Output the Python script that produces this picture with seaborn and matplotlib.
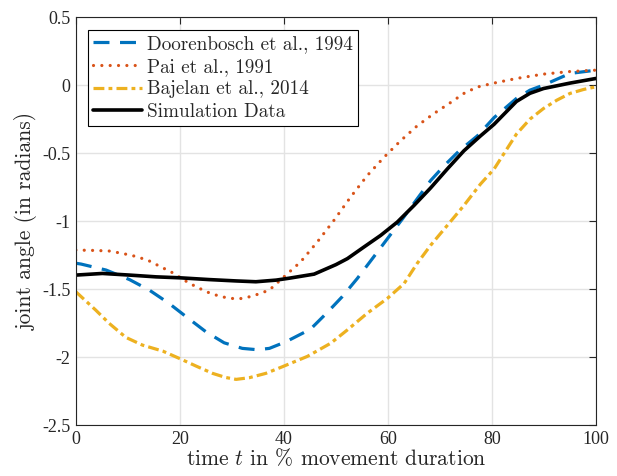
import matplotlib
matplotlib.use("Agg")
import matplotlib.pyplot as plt
from matplotlib.ticker import FuncFormatter
import seaborn as sns
import pandas as pd

# time in % of movement duration and joint angle (rad) for each source
t_door = [0, 1, 5.8, 10.3, 14.1, 17.9, 21.2, 25, 28.5, 32, 34.9, 37.2, 40.4, 45.1, 48.3, 51.2,
          54.1, 57, 59.9, 62.8, 65.6, 68.2, 70.8, 73.7, 77.2, 80.4, 84.7, 87.3, 89.9, 95, 100]
doorenbosch = [-1.31, -1.316, -1.36, -1.43, -1.507, -1.605, -1.703, -1.814, -1.895, -1.936, -1.946,
               -1.936, -1.887, -1.795, -1.673, -1.556, -1.422, -1.276, -1.129, -0.983, -0.837,
               -0.702, -0.593, -0.483, -0.373, -0.239, -0.098, -0.037, 0.0, 0.086, 0.11]

t_pai = [0, 3.8, 6.4, 9, 11.2, 13.8, 16, 18.6, 20.8, 23.1, 25.6, 27.9, 30.1, 31.4, 32.7, 34.9,
         37.2, 40, 43.2, 46.4, 49.6, 52.8, 56, 59.2, 62.4, 65.6, 68.8, 72, 74.6, 77.1, 80, 84.7,
         89.9, 95, 100]
pai = [-1.213, -1.216, -1.22, -1.238, -1.257, -1.287, -1.33, -1.38, -1.434, -1.483, -1.527, -1.556,
       -1.569, -1.571, -1.564, -1.539, -1.507, -1.41, -1.30, -1.154, -0.995, -0.824, -0.666, -0.532,
       -0.41, -0.30, -0.21, -0.129, -0.061, -0.015, 0.012, 0.049, 0.081, 0.10, 0.11]

t_baj = [0, 3.8, 6.4, 9.6, 12.8, 16.7, 19.9, 23.1, 26.3, 28.8, 30.8, 33.3, 36.5, 39.7, 44.5, 49,
         52.2, 56, 59.9, 63.1, 65.6, 68.2, 71.4, 74.6, 77.8, 80.4, 84.7, 87.3, 89.9, 92.5, 95,
         97.6, 100]
bajelan = [-1.52, -1.654, -1.752, -1.855, -1.912, -1.956, -2.01, -2.066, -2.12, -2.15, -2.164,
           -2.152, -2.12, -2.071, -1.995, -1.898, -1.80, -1.678, -1.568, -1.459, -1.312, -1.178,
           -1.032, -0.885, -0.727, -0.617, -0.36, -0.25, -0.172, -0.11, -0.061, -0.032, -0.012]

t_sim = [0, 5.1, 10.3, 15.4, 20, 25.6, 30.8, 34.6, 38.5, 41, 45.8, 50, 52.2, 55.4, 58.6, 61.8, 65,
         68.2, 71.4, 74.6, 77.8, 80.4, 84.7, 87.3, 89.9, 95, 100]
simulation = [-1.397, -1.385, -1.397, -1.41, -1.417, -1.43, -1.44, -1.446, -1.434, -1.42, -1.39,
              -1.32, -1.276, -1.19, -1.105, -1.007, -0.885, -0.756, -0.617, -0.483, -0.373,
              -0.288, -0.12, -0.06, -0.025, 0.015, 0.049]

labels = ["Doorenbosch et al., 1994", "Pai et al., 1991", "Bajelan et al., 2014", "Simulation Data"]
x_ticks = [0, 20, 40, 60, 80, 100]
y_ticks = [-2.5, -2, -1.5, -1, -0.5, 0, 0.5]

sns.set_style("white")
plt.rcParams["mathtext.fontset"] = "cm"
text_font = "cmr10"
tick_font = "Liberation Serif"

fig = plt.figure(figsize=(6.17, 4.76), dpi=100)
ax = fig.add_axes([0.123, 0.107, 0.843, 0.857])

ax.grid(True, color="#e3e3e3", linewidth=1.0)
ax.set_axisbelow(True)

series = [
    (t_door, doorenbosch, "#0072BD", dict(linewidth=2.3, linestyle=(0, (5, 3.3)))),
    (t_pai, pai, "#D95319", dict(linewidth=2.3, linestyle=(0, (0.01, 2.6)),
                                 dash_capstyle="round")),
    (t_baj, bajelan, "#EDB120", dict(linewidth=2.3, linestyle=(0, (3.4, 1.3, 1.2, 1.3)))),
    (t_sim, simulation, "black", dict(linewidth=2.6, linestyle="-")),
]
for (tx, ty, col, kw), lab in zip(series, labels):
    df = pd.DataFrame({"t": tx, "angle": ty})
    sns.lineplot(data=df, x="t", y="angle", color=col, label=lab, ax=ax, **kw)

ax.set_xlim(0, 100)
ax.set_ylim(-2.5, 0.5)
ax.set_xticks(x_ticks)
ax.set_yticks(y_ticks)
ax.xaxis.set_major_formatter(FuncFormatter(lambda v, p: f"{v:g}"))
ax.yaxis.set_major_formatter(FuncFormatter(lambda v, p: f"{v:g}"))
ax.tick_params(direction="in", length=5, width=0.8, color="#262626",
               top=True, right=True, labelsize=13, pad=4)
for lbl in ax.get_xticklabels() + ax.get_yticklabels():
    lbl.set_fontfamily(tick_font)
    lbl.set_color("#262626")
for sp in ax.spines.values():
    sp.set_color("#262626")
    sp.set_linewidth(0.8)

ax.set_xlabel(r"time $t$ in % movement duration", fontfamily=text_font, fontsize=15.5,
              labelpad=0)
ax.set_ylabel("joint angle (in radians)", fontfamily=text_font, fontsize=15.5, labelpad=3)

leg = ax.legend(loc="upper left", bbox_to_anchor=(0.023, 0.968), frameon=True, fancybox=False,
                edgecolor="black", framealpha=1, borderpad=0.25, labelspacing=0.25,
                handlelength=2.6, handletextpad=0.25, borderaxespad=0,
                prop={"family": text_font, "size": 13.8})
leg.get_frame().set_linewidth(0.8)

fig.savefig("out.png", dpi=100)
